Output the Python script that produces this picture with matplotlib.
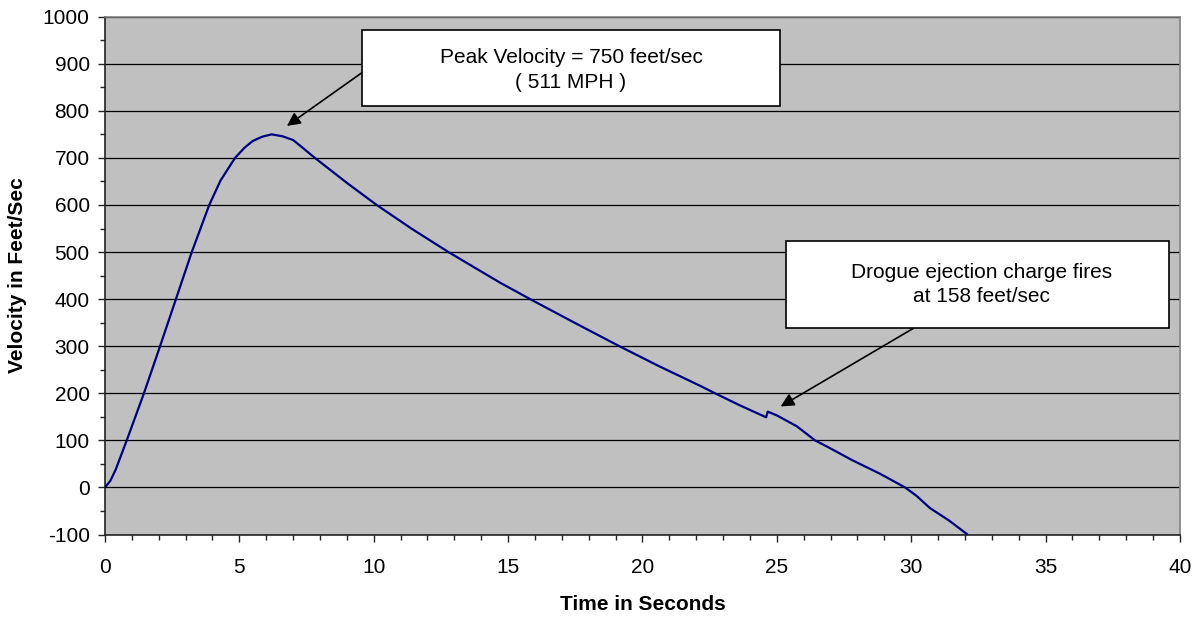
import numpy as np
import matplotlib
matplotlib.use('Agg')
import matplotlib.pyplot as plt
from matplotlib.patches import Rectangle
from matplotlib.ticker import MultipleLocator

plt.rcParams['font.family'] = ['Liberation Sans', 'DejaVu Sans']
plt.rcParams['axes.unicode_minus'] = False

# flight velocity profile (seconds, feet/sec)
time_s = [0.0, 0.2, 0.4, 0.81, 1.45, 2.05, 2.64, 3.23, 3.88, 4.3, 4.84, 5.2,
          5.5, 5.85, 6.2, 6.6, 7.0, 7.26, 7.81, 9.0, 10.11, 11.4, 12.78, 14.7,
          15.82, 17.5, 19.14, 20.6, 22.14, 22.7, 23.6, 24.6, 24.66, 25.0,
          25.74, 26.42, 26.86, 27.8, 28.84, 29.77, 30.2, 30.7, 31.4, 32.07]
velocity = [0, 14, 38, 100, 200, 300, 400, 500, 600, 652, 700, 722,
            736, 745, 750, 746, 738, 726, 700, 647, 600, 550, 500, 435,
            400, 349, 300, 258, 216, 200, 175, 149, 161, 153,
            130, 100, 87, 58, 29, 0, -18, -44, -70, -99]

peak_text = "Peak Velocity = 750 feet/sec\n( 511 MPH )"
drogue_text = "Drogue ejection charge fires\nat 158 feet/sec"

FS = 15

fig = plt.figure(figsize=(12.01, 6.20), dpi=100)
ax = fig.add_axes([0.0874, 0.1379, 0.8951, 0.8352])
ax.set_facecolor('#C0C0C0')

ax.plot(time_s, velocity, color='#000080', lw=1.6, zorder=3)

ax.set_xlim(0, 40)
ax.set_ylim(-100, 1000)
ax.xaxis.set_major_locator(MultipleLocator(5))
ax.xaxis.set_minor_locator(MultipleLocator(1))
ax.yaxis.set_major_locator(MultipleLocator(100))
ax.yaxis.set_minor_locator(MultipleLocator(50))
ax.tick_params(which='major', direction='out', length=5, width=1, labelsize=FS, color='#222222')
ax.tick_params(which='minor', direction='out', length=3.5, width=1, color='#222222')
ax.tick_params(axis='x', which='major', pad=12)
ax.tick_params(axis='y', which='major', pad=6)
ax.grid(axis='y', which='major', color='#000000', lw=0.9, zorder=1)

for s in ('left', 'bottom'):
    ax.spines[s].set_color('#222222')
    ax.spines[s].set_linewidth(1.2)
for s in ('top', 'right'):
    ax.spines[s].set_color('#808080')
    ax.spines[s].set_linewidth(1.2)

ax.set_xlabel("Time in Seconds", fontsize=FS, fontweight='bold')
ax.set_ylabel("Velocity in Feet/Sec", fontsize=FS, fontweight='bold')
ax.xaxis.set_label_coords(0.5, -0.117)
ax.yaxis.set_label_coords(-0.0726, 0.5)

# callout boxes
ax.add_patch(Rectangle((9.56, 811), 15.56, 161, facecolor='white',
                       edgecolor='black', lw=1.2, zorder=5))
ax.text(17.34, 887, peak_text, ha='center', va='center', fontsize=FS,
        linespacing=1.38, zorder=6)
ax.annotate("", xy=(6.77, 768), xytext=(9.56, 881),
            arrowprops=dict(arrowstyle='-|>', color='black', lw=1.2,
                            mutation_scale=20, shrinkA=0, shrinkB=0), zorder=4)

ax.add_patch(Rectangle((25.33, 338), 14.25, 185, facecolor='white',
                       edgecolor='black', lw=1.2, zorder=5))
ax.text(32.63, 431, drogue_text, ha='center', va='center', fontsize=FS,
        linespacing=1.38, zorder=6)
ax.annotate("", xy=(25.14, 172), xytext=(30.08, 338),
            arrowprops=dict(arrowstyle='-|>', color='black', lw=1.2,
                            mutation_scale=20, shrinkA=0, shrinkB=0), zorder=4)

fig.savefig("out.png", dpi=100)
